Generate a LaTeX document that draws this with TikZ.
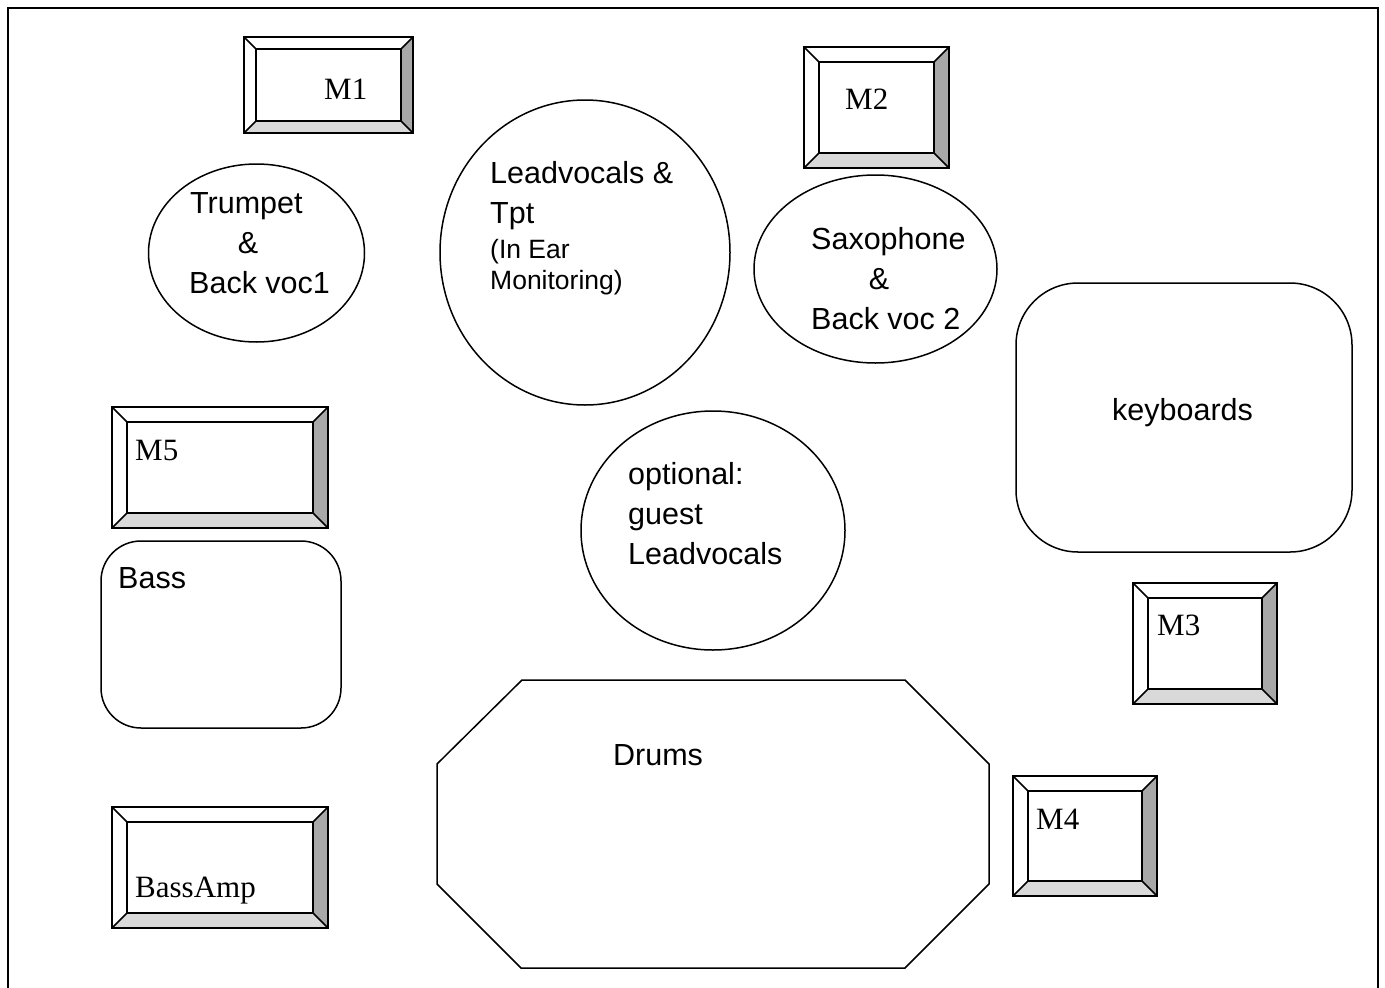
\documentclass[tikz,border=0pt]{standalone}
\usepackage{fontspec}
\setmainfont{Liberation Sans}
\newfontfamily\serifM{Liberation Serif}
\usetikzlibrary{shapes.geometric}
\definecolor{bevR}{RGB}{168,168,168}
\definecolor{bevB}{RGB}{217,217,217}
\tikzset{
  big/.style={anchor=base west, inner sep=0pt, font=\fontsize{30.5}{40}\selectfont},
  bigc/.style={anchor=base, inner sep=0pt, font=\fontsize{30.5}{40}\selectfont},
  small/.style={anchor=base west, inner sep=0pt, font=\fontsize{26.5}{31}\selectfont},
  mlbl/.style={anchor=base west, inner sep=0pt, font=\serifM\fontsize{31}{36}\selectfont},
  outl/.style={draw=black, line width=1.5pt},
  oval/.style={outl, ellipse, inner sep=0pt},
  rbox/.style={outl, rectangle, inner sep=0pt},
  bev/.style={draw=black, line width=1.6pt, line join=miter}
}
% name, x1, y1, x2, y2, inset
\newcommand\bevelbox[6]{%
  \pgfmathsetmacro\bxa{#2+#6}\pgfmathsetmacro\bya{#3+#6}%
  \pgfmathsetmacro\bxb{#4-#6}\pgfmathsetmacro\byb{#5-#6}%
  \coordinate (#1) at (#2,#3);
  \fill[white] (#2,#3) rectangle (#4,#5);
  \fill[bevR] (#4,#3) -- (#4,#5) -- (\bxb,\byb) -- (\bxb,\bya) -- cycle;
  \fill[bevB] (#2,#5) -- (#4,#5) -- (\bxb,\byb) -- (\bxa,\byb) -- cycle;
  \draw[bev] (#2,#3) rectangle (#4,#5);
  \draw[bev] (\bxa,\bya) rectangle (\bxb,\byb);
  \draw[bev] (#2,#3) -- (\bxa,\bya) (#4,#3) -- (\bxb,\bya)
             (#2,#5) -- (\bxa,\byb) (#4,#5) -- (\bxb,\byb);
}
\begin{document}
\begin{tikzpicture}[x=1pt,y=-1pt]
\useasboundingbox (0,0) rectangle (1385,988);
% frame
\draw[line width=2.2pt] (8,988) -- (8,8) -- (1378,8) -- (1378,988);

% monitors
\bevelbox{m1}{244}{37}{413}{133}{12}
\node[mlbl] (m1t) at (324,99) {M1};
\bevelbox{m2}{804}{47}{949}{168}{15}
\node[mlbl] (m2t) at (845,109) {M2};
\bevelbox{m5}{112}{407}{328}{528}{15}
\node[mlbl] (m5t) at (135,460) {M5};
\bevelbox{m3}{1133}{583}{1277}{704}{15}
\node[mlbl] (m3t) at (1157,635) {M3};
\bevelbox{m4}{1013}{776}{1157}{896}{15}
\node[mlbl] (m4t) at (1036,829) {M4};
\bevelbox{bamp}{112}{807}{328}{928}{15}
\node[mlbl] (bampt) at (135,897) {BassAmp};

% trumpet
\node[oval, minimum width=216pt, minimum height=178pt] (tpt) at (256.5,253) {};
\node[big] (tpt1) at (190,213) {Trumpet};
\node[bigc] (tpt2) at (248,253) {\&};
\node[big] (tpt3) at (189,293) {Back voc1};

% lead vocals
\node[oval, minimum width=290pt, minimum height=305pt] (lead) at (585,252.5) {};
\node[big] (lead1) at (490,183) {Leadvocals \&};
\node[big] (lead2) at (490,223) {Tpt};
\node[small] (lead3) at (490,258) {(In Ear};
\node[small] (lead4) at (490,289) {Monitoring)};

% saxophone
\node[oval, minimum width=243pt, minimum height=188pt] (sax) at (875.5,269) {};
\node[big] (sax1) at (811,249) {Saxophone};
\node[bigc] (sax2) at (879,289) {\&};
\node[big] (sax3) at (811,329) {Back voc 2};

% keyboards
\node[rbox, rounded corners=62pt, minimum width=336pt, minimum height=269pt] (kb) at (1184,417.5) {};
\node[big] (kbt) at (1112,420) {keyboards};

% optional guest
\node[oval, minimum width=264pt, minimum height=239pt] (opt) at (713,530.5) {};
\node[big] (opt1) at (628,484) {optional:};
\node[big] (opt2) at (628,524) {guest};
\node[big] (opt3) at (628,564) {Leadvocals};

% bass
\node[rbox, rounded corners=40pt, minimum width=240pt, minimum height=187pt] (bass) at (221,634.5) {};
\node[big] (basst) at (118,588) {Bass};

% drums
\draw[outl, line join=miter] (522,680) -- (905,680) -- (989,764) -- (989,884) -- (905,968)
   -- (521,968) -- (437,884) -- (437,764) -- cycle;
\coordinate (drums) at (713,824);
\node[big] (drumst) at (613,765) {Drums};
\end{tikzpicture}
\end{document}
